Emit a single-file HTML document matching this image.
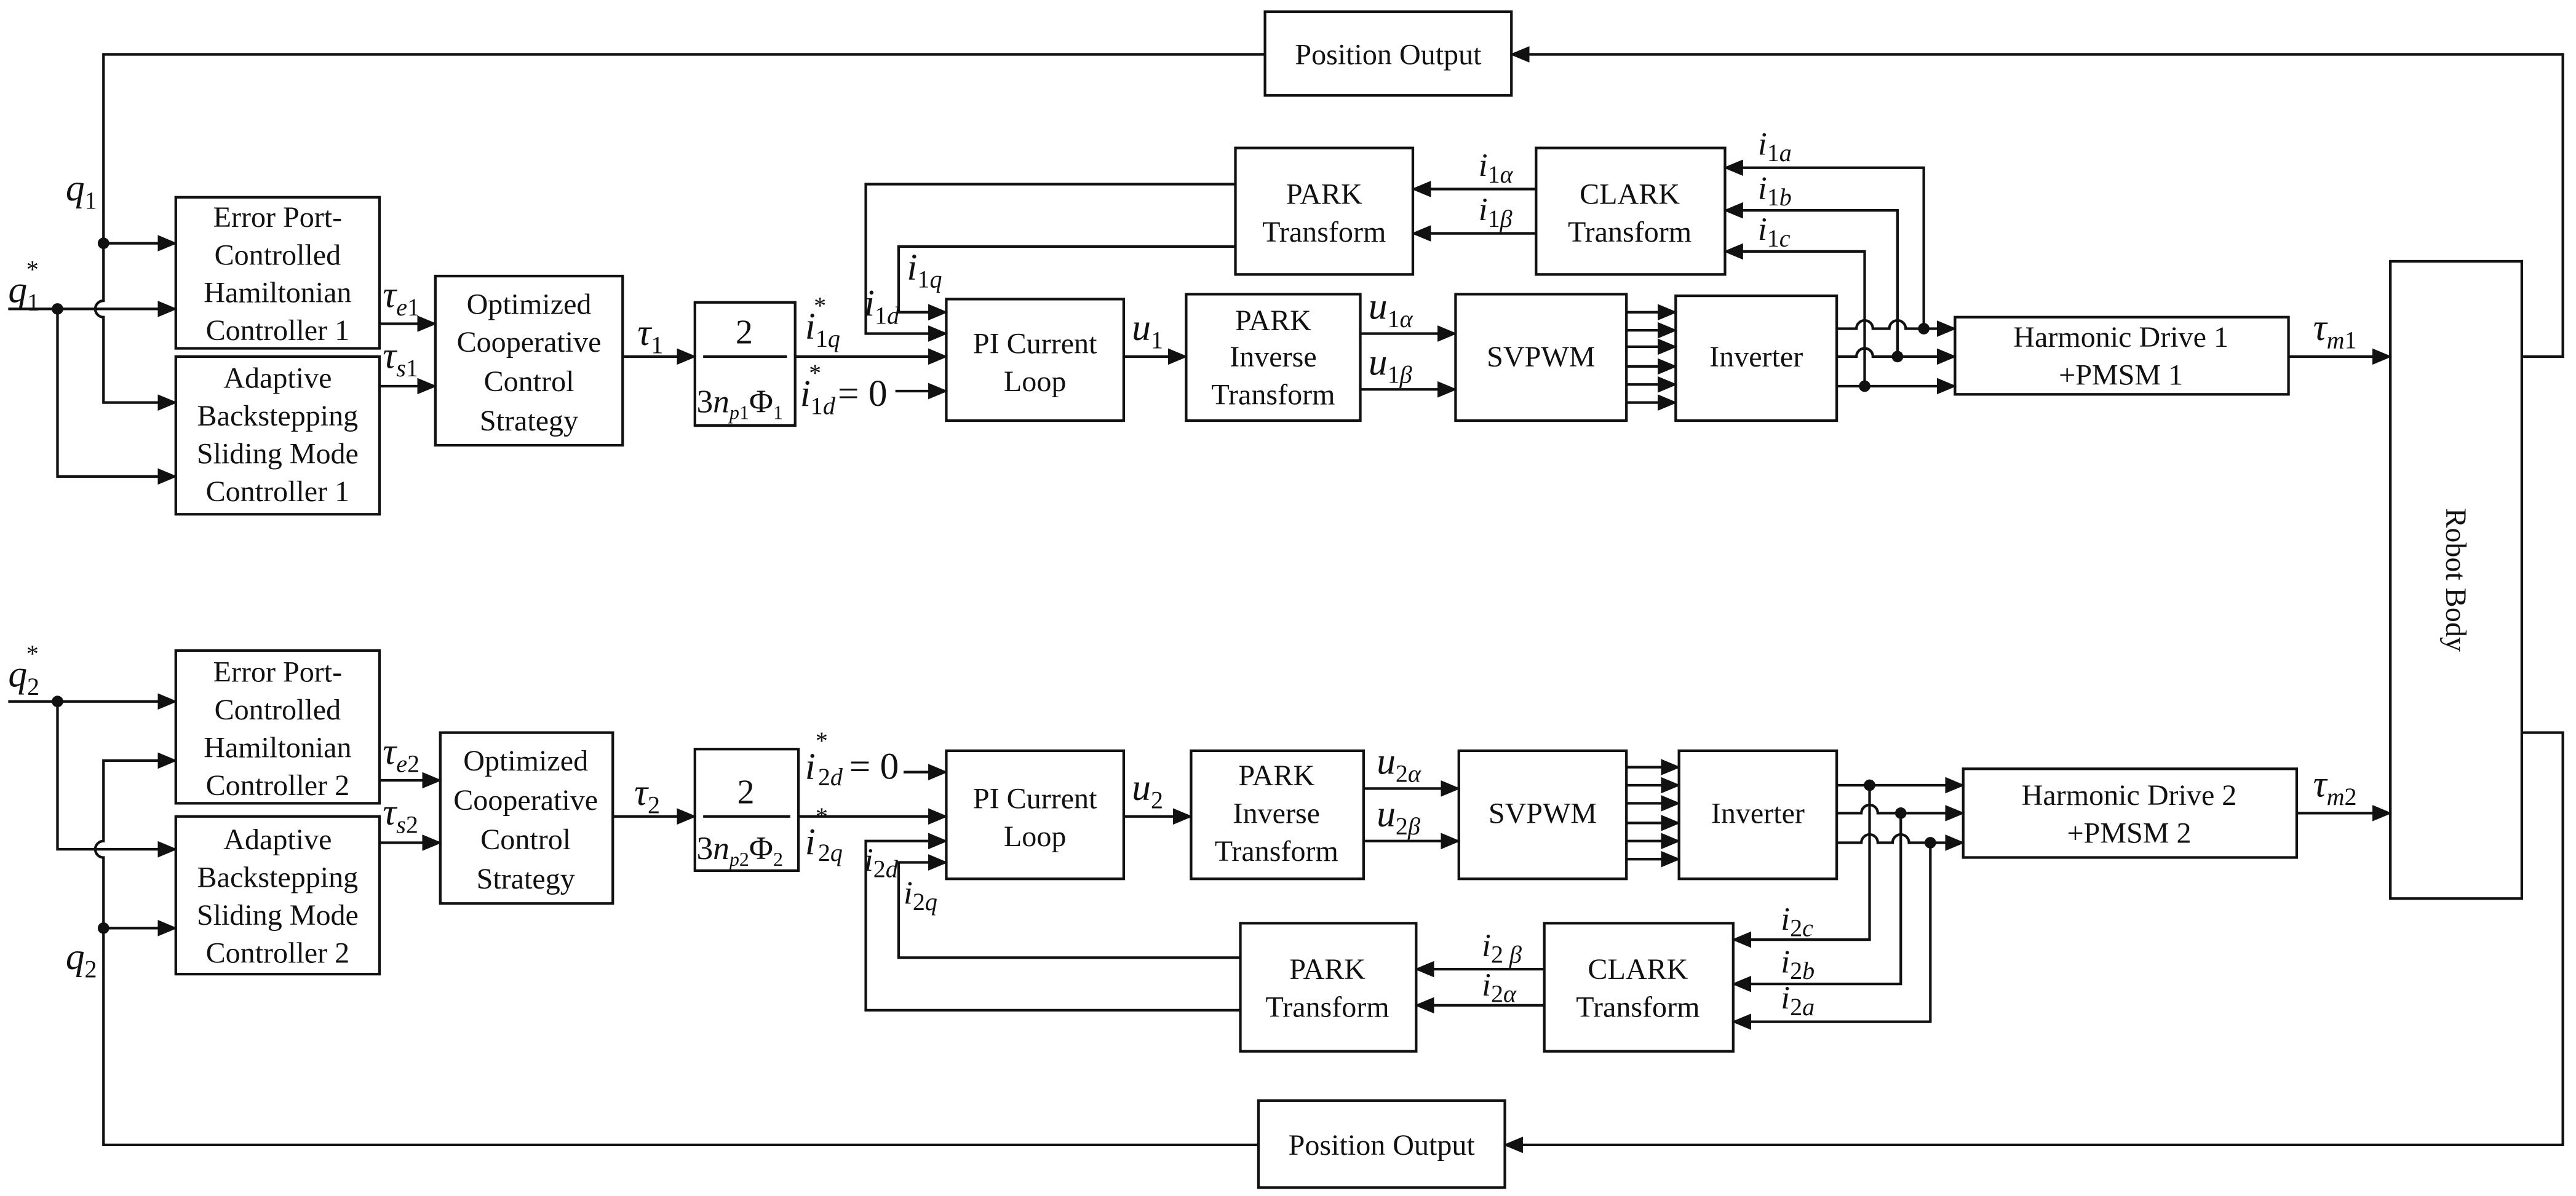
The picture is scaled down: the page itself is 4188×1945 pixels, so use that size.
<!DOCTYPE html>
<html><head><meta charset="utf-8"><style>
html,body{margin:0;padding:0;background:#fff}
svg{display:block}
svg text{font-family:"Liberation Serif","DejaVu Serif",serif;fill:#111}
.b{font-size:18px;text-anchor:middle}
.m{font-style:italic;font-size:23px}
.s{font-size:15px}
</style></head><body>
<svg width="4188" height="1945" viewBox="0 0 1568 728" xmlns="http://www.w3.org/2000/svg" font-family="Liberation Serif, DejaVu Serif, serif">
<defs><marker id="a" markerWidth="12" markerHeight="10" refX="11" refY="5" orient="auto" markerUnits="userSpaceOnUse"><path d="M0,0 L12,5 L0,10 z" fill="#111"/></marker></defs>
<g fill="none" stroke="#111" stroke-width="1.6">
<rect x="770" y="7" width="150" height="51"/>
<rect x="107" y="120" width="124" height="92"/>
<rect x="107" y="217" width="124" height="96"/>
<rect x="265" y="168" width="114" height="103"/>
<rect x="423" y="184" width="61" height="75"/>
<rect x="576" y="182" width="108" height="74"/>
<rect x="722" y="179" width="106" height="77"/>
<rect x="886" y="179" width="104" height="77"/>
<rect x="1020" y="180" width="98" height="76"/>
<rect x="1190" y="193" width="203" height="47"/>
<rect x="752" y="90" width="108" height="77"/>
<rect x="935" y="90" width="115" height="77"/>
<rect x="1455" y="159" width="80" height="388"/>
<rect x="766" y="670" width="150" height="53"/>
<rect x="107" y="396" width="124" height="93"/>
<rect x="107" y="497" width="124" height="96"/>
<rect x="268" y="446" width="105" height="104"/>
<rect x="423" y="456" width="63" height="74"/>
<rect x="576" y="457" width="108" height="78"/>
<rect x="725" y="457" width="105" height="78"/>
<rect x="888" y="457" width="102" height="78"/>
<rect x="1022" y="457" width="96" height="78"/>
<rect x="1195" y="468" width="203" height="54"/>
<rect x="755" y="562" width="107" height="78"/>
<rect x="940" y="562" width="115" height="78"/>
<line x1="428" y1="217" x2="479" y2="217"/>
<line x1="428" y1="497" x2="481" y2="497"/>
</g>
<g fill="none" stroke="#111" stroke-width="1.6" marker-end="url(#a)">
<path d="M1535,217 H1560 V33 H920"/>
<path d="M770,33 H63 V183 A5,5 0 0 0 63,193 V245 H107"/>
<path d="M63,148 H107"/>
<path d="M5,188 H107"/>
<path d="M35,188 V290 H107"/>
<path d="M231,197 H265"/>
<path d="M231,235 H265"/>
<path d="M379,217 H423"/>
<path d="M484,217 H576"/>
<path d="M545,238 H576"/>
<path d="M752,112 H527 V203 H576"/>
<path d="M752,150 H547 V190 H576"/>
<path d="M684,217 H722"/>
<path d="M828,203 H886"/>
<path d="M828,237 H886"/>
<path d="M990,190 H1020"/><path d="M990,201 H1020"/><path d="M990,211 H1020"/><path d="M990,223 H1020"/><path d="M990,234 H1020"/><path d="M990,245 H1020"/>
<path d="M1118,200 H1130 A5,5 0 0 1 1140,200 H1150 A5,5 0 0 1 1160,200 H1190"/>
<path d="M1118,217 H1130 A5,5 0 0 1 1140,217 H1190"/>
<path d="M1118,235 H1190"/>
<path d="M1171,200 V102 H1050"/>
<path d="M1155,217 V128 H1050"/>
<path d="M1135,235 V153 H1050"/>
<path d="M935,115 H860"/>
<path d="M935,142 H860"/>
<path d="M1393,217 H1455"/>
<path d="M1535,446 H1560 V697 H916"/>
<path d="M766,697 H63 V522 A5,5 0 0 1 63,512 V463 H107"/>
<path d="M63,565 H107"/>
<path d="M5,427 H107"/>
<path d="M35,427 V517 H107"/>
<path d="M231,475 H268"/>
<path d="M231,513 H268"/>
<path d="M373,497 H423"/>
<path d="M486,497 H576"/>
<path d="M550,470 H576"/>
<path d="M755,615 H527 V512 H576"/>
<path d="M755,583 H547 V525 H576"/>
<path d="M684,497 H725"/>
<path d="M830,480 H888"/>
<path d="M830,512 H888"/>
<path d="M990,467 H1022"/><path d="M990,478 H1022"/><path d="M990,489 H1022"/><path d="M990,501 H1022"/><path d="M990,512 H1022"/><path d="M990,523 H1022"/>
<path d="M1118,478 H1195"/>
<path d="M1118,495 H1133 A5,5 0 0 1 1143,495 H1195"/>
<path d="M1118,513 H1133 A5,5 0 0 1 1143,513 H1152 A5,5 0 0 1 1162,513 H1195"/>
<path d="M1138,478 V572 H1055"/>
<path d="M1157,495 V599 H1055"/>
<path d="M1175,513 V622 H1055"/>
<path d="M940,590 H862"/>
<path d="M940,612 H862"/>
<path d="M1398,495 H1455"/>
</g>
<g fill="#111">
<circle cx="63" cy="148" r="3.5"/><circle cx="35" cy="188" r="3.5"/>
<circle cx="1171" cy="200" r="3.5"/><circle cx="1155" cy="217" r="3.5"/><circle cx="1135" cy="235" r="3.5"/>
<circle cx="63" cy="565" r="3.5"/><circle cx="35" cy="427" r="3.5"/>
<circle cx="1138" cy="478" r="3.5"/><circle cx="1157" cy="495" r="3.5"/><circle cx="1175" cy="513" r="3.5"/>
</g>
<text class="b" x="845" y="39">Position Output</text>
<text class="b" x="841" y="703">Position Output</text>
<text class="b" x="169" y="138">Error Port-</text><text class="b" x="169" y="161">Controlled</text><text class="b" x="169" y="184">Hamiltonian</text><text class="b" x="169" y="207">Controller 1</text>
<text class="b" x="169" y="236">Adaptive</text><text class="b" x="169" y="259">Backstepping</text><text class="b" x="169" y="282">Sliding Mode</text><text class="b" x="169" y="305">Controller 1</text>
<text class="b" x="322" y="191">Optimized</text><text class="b" x="322" y="214">Cooperative</text><text class="b" x="322" y="238">Control</text><text class="b" x="322" y="262">Strategy</text>
<text class="b" x="630" y="215">PI Current</text><text class="b" x="630" y="238">Loop</text>
<text class="b" x="775" y="201">PARK</text><text class="b" x="775" y="223">Inverse</text><text class="b" x="775" y="246">Transform</text>
<text class="b" x="938" y="223">SVPWM</text>
<text class="b" x="1069" y="223">Inverter</text>
<text class="b" x="1291" y="211">Harmonic Drive 1</text><text class="b" x="1291" y="234">+PMSM 1</text>
<text class="b" x="806" y="124">PARK</text><text class="b" x="806" y="147">Transform</text>
<text class="b" x="992" y="124">CLARK</text><text class="b" x="992" y="147">Transform</text>
<text class="b" x="169" y="415">Error Port-</text><text class="b" x="169" y="438">Controlled</text><text class="b" x="169" y="461">Hamiltonian</text><text class="b" x="169" y="484">Controller 2</text>
<text class="b" x="169" y="517">Adaptive</text><text class="b" x="169" y="540">Backstepping</text><text class="b" x="169" y="563">Sliding Mode</text><text class="b" x="169" y="586">Controller 2</text>
<text class="b" x="320" y="469">Optimized</text><text class="b" x="320" y="493">Cooperative</text><text class="b" x="320" y="517">Control</text><text class="b" x="320" y="541">Strategy</text>
<text class="b" x="630" y="492">PI Current</text><text class="b" x="630" y="515">Loop</text>
<text class="b" x="777" y="478">PARK</text><text class="b" x="777" y="501">Inverse</text><text class="b" x="777" y="524">Transform</text>
<text class="b" x="939" y="501">SVPWM</text>
<text class="b" x="1070" y="501">Inverter</text>
<text class="b" x="1296" y="490">Harmonic Drive  2</text><text class="b" x="1296" y="513">+PMSM 2</text>
<text class="b" x="808" y="596">PARK</text><text class="b" x="808" y="619">Transform</text>
<text class="b" x="997" y="596">CLARK</text><text class="b" x="997" y="619">Transform</text>
<text class="b" transform="translate(1489,353) rotate(90)">Robot Body</text>
<text x="453" y="209" font-size="21" text-anchor="middle">2</text>
<text x="424" y="251" font-size="20">3<tspan font-style="italic">n</tspan><tspan font-style="italic" font-size="12" dy="4">p</tspan><tspan font-size="12">1</tspan><tspan dy="-4">Φ</tspan><tspan font-size="12" dy="4">1</tspan></text>
<text x="454" y="489" font-size="21" text-anchor="middle">2</text>
<text x="424" y="523" font-size="20">3<tspan font-style="italic">n</tspan><tspan font-style="italic" font-size="12" dy="4">p</tspan><tspan font-size="12">2</tspan><tspan dy="-4">Φ</tspan><tspan font-size="12" dy="4">2</tspan></text>
<g class="m">
<text x="5" y="184">q<tspan class="s" font-style="normal" dy="5">1</tspan><tspan class="s" font-style="normal" dx="-8" dy="-20">*</tspan></text>
<text x="40" y="122">q<tspan class="s" font-style="normal" dy="5">1</tspan></text>
<text x="5" y="418">q<tspan class="s" font-style="normal" dy="5">2</tspan><tspan class="s" font-style="normal" dx="-8" dy="-20">*</tspan></text>
<text x="40" y="590">q<tspan class="s" font-style="normal" dy="5">2</tspan></text>
<text x="233" y="187">τ<tspan class="s" dy="5">e</tspan><tspan class="s" font-style="normal">1</tspan></text>
<text x="233" y="224">τ<tspan class="s" dy="5">s</tspan><tspan class="s" font-style="normal">1</tspan></text>
<text x="233" y="465">τ<tspan class="s" dy="5">e</tspan><tspan class="s" font-style="normal">2</tspan></text>
<text x="233" y="502">τ<tspan class="s" dy="5">s</tspan><tspan class="s" font-style="normal">2</tspan></text>
<text x="388" y="210">τ<tspan class="s" font-style="normal" dy="5">1</tspan></text>
<text x="386" y="490">τ<tspan class="s" font-style="normal" dy="5">2</tspan></text>
<text x="490" y="206">i<tspan class="s" font-style="normal" dy="5">1</tspan><tspan class="s">q</tspan><tspan class="s" font-style="normal" dx="-16" dy="-20">*</tspan></text>
<text x="487" y="247">i<tspan class="s" font-style="normal" dy="5">1</tspan><tspan class="s">d</tspan><tspan class="s" font-style="normal" dx="-16" dy="-20">*</tspan><tspan font-style="normal" dx="10" dy="15">= 0</tspan></text>
<text x="490" y="474">i<tspan class="s" font-style="normal" dy="-18">*</tspan><tspan class="s" font-style="normal" dx="-6" dy="22">2</tspan><tspan class="s">d</tspan><tspan font-style="normal" dx="4" dy="-4">= 0</tspan></text>
<text x="490" y="520">i<tspan class="s" font-style="normal" dy="-18">*</tspan><tspan class="s" font-style="normal" dx="-6" dy="22">2</tspan><tspan class="s">q</tspan></text>
<text x="526" y="192">i<tspan class="s" font-style="normal" dy="5">1</tspan><tspan class="s">d</tspan></text>
<text x="552" y="170">i<tspan class="s" font-style="normal" dy="5">1</tspan><tspan class="s">q</tspan></text>
<text x="526" y="530" style="font-size:20px">i<tspan class="s" font-style="normal" dy="4">2</tspan><tspan class="s">d</tspan></text>
<text x="550" y="550" style="font-size:20px">i<tspan class="s" font-style="normal" dy="4">2</tspan><tspan class="s">q</tspan></text>
<text x="689" y="207">u<tspan class="s" font-style="normal" dy="5">1</tspan></text>
<text x="689" y="487">u<tspan class="s" font-style="normal" dy="5">2</tspan></text>
<text x="833" y="194">u<tspan class="s" font-style="normal" dy="5">1</tspan><tspan class="s">α</tspan></text>
<text x="833" y="228">u<tspan class="s" font-style="normal" dy="5">1</tspan><tspan class="s">β</tspan></text>
<text x="838" y="471">u<tspan class="s" font-style="normal" dy="5">2</tspan><tspan class="s">α</tspan></text>
<text x="838" y="503">u<tspan class="s" font-style="normal" dy="5">2</tspan><tspan class="s">β</tspan></text>
<text x="900" y="107" style="font-size:20px">i<tspan class="s" font-style="normal" dy="4">1</tspan><tspan class="s">α</tspan></text>
<text x="900" y="134" style="font-size:20px">i<tspan class="s" font-style="normal" dy="4">1</tspan><tspan class="s">β</tspan></text>
<text x="1070" y="94" style="font-size:20px">i<tspan class="s" font-style="normal" dy="4">1</tspan><tspan class="s">a</tspan></text>
<text x="1070" y="121" style="font-size:20px">i<tspan class="s" font-style="normal" dy="4">1</tspan><tspan class="s">b</tspan></text>
<text x="1070" y="146" style="font-size:20px">i<tspan class="s" font-style="normal" dy="4">1</tspan><tspan class="s">c</tspan></text>
<text x="902" y="582" style="font-size:20px">i<tspan class="s" font-style="normal" dy="4">2</tspan><tspan class="s"> β</tspan></text>
<text x="902" y="606" style="font-size:20px">i<tspan class="s" font-style="normal" dy="4">2</tspan><tspan class="s">α</tspan></text>
<text x="1084" y="566" style="font-size:20px">i<tspan class="s" font-style="normal" dy="4">2</tspan><tspan class="s">c</tspan></text>
<text x="1084" y="592" style="font-size:20px">i<tspan class="s" font-style="normal" dy="4">2</tspan><tspan class="s">b</tspan></text>
<text x="1084" y="614" style="font-size:20px">i<tspan class="s" font-style="normal" dy="4">2</tspan><tspan class="s">a</tspan></text>
<text x="1408" y="207">τ<tspan class="s" dy="5">m</tspan><tspan class="s" font-style="normal">1</tspan></text>
<text x="1408" y="485">τ<tspan class="s" dy="5">m</tspan><tspan class="s" font-style="normal">2</tspan></text>
</g>
</svg>
</body></html>
